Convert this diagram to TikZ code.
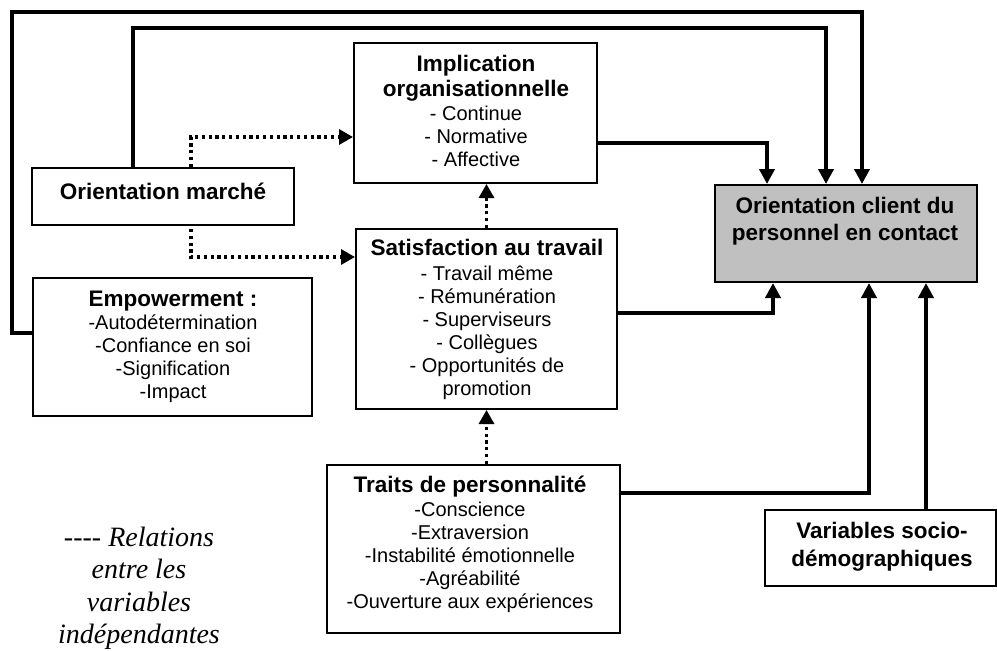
\documentclass[tikz,border=0pt]{standalone}
\usepackage{fontspec}
\setmainfont{Liberation Sans}
\newfontfamily\timesfont{Liberation Serif}
\usetikzlibrary{arrows.meta}
\definecolor{ocgray}{RGB}{192,192,192}
\begin{document}
\begin{tikzpicture}[x=1pt,y=-1pt,
  box/.style={draw, line width=2pt, inner sep=0pt},
  txt/.style={align=center, inner sep=0pt, anchor=base, font=\fontsize{20}{23}\selectfont},
  conn/.style={line width=4pt, -{Triangle[length=15pt,width=15pt]}},
  dotc/.style={line width=3.2pt, dash pattern=on 3.2pt off 3.6pt, -{Triangle[length=14pt,width=15pt]}}]
\useasboundingbox (0,0) rectangle (997,651);
% boxes
\node[box, minimum width=243pt, minimum height=140pt] (impl) at (475.5,113) {};
\node[box, minimum width=262pt, minimum height=57pt] (om) at (163,196.5) {};
\node[box, minimum width=261pt, minimum height=180pt] (sat) at (486.5,319) {};
\node[box, fill=ocgray, minimum width=262pt, minimum height=97pt] (oc) at (846,233.5) {};
\node[box, minimum width=293pt, minimum height=168pt] (traits) at (473.5,549) {};
\node[box, minimum width=231pt, minimum height=76pt] (var) at (880.5,548) {};
\node[box, minimum width=279pt, minimum height=138pt] (emp) at (172.5,347) {};
% texts (anchor base = baseline of last line)
\node[txt] (implT) at (476,166.7) {{\fontsize{22.5}{23}\selectfont\bfseries Implication}\\[2pt]{\fontsize{22.5}{23}\selectfont\bfseries organisationnelle}\\[1pt]- Continue\\- Normative\\- Affective};
\node[txt] (omT) at (163,199) {\fontsize{22.5}{23}\selectfont\bfseries Orientation marché};
\node[txt] (satT) at (487,395) {{\fontsize{22.5}{23}\selectfont\bfseries Satisfaction au travail}\\[1.5pt]- Travail même\\- Rémunération\\- Superviseurs\\- Collègues\\- Opportunités de\\promotion};
\node[txt] (ocT) at (845,240) {{\fontsize{22.5}{23}\selectfont\bfseries Orientation client du}\\[3.5pt]{\fontsize{22.5}{23}\selectfont\bfseries personnel en contact}};
\node[txt] (trT) at (470,608.3) {{\fontsize{22.5}{23}\selectfont\bfseries Traits de personnalité}\\[0.5pt]-Conscience\\-Extraversion\\-Instabilité émotionnelle\\-Agréabilité\\-Ouverture aux expériences};
\node[txt] (varT) at (882,566) {{\fontsize{22.5}{23}\selectfont\bfseries Variables socio-}\\[4.5pt]{\fontsize{22.5}{23}\selectfont\bfseries démographiques}};
\node[txt] (empT) at (173,398.3) {{\fontsize{22.5}{23}\selectfont\bfseries Empowerment :}\\-Autodétermination\\-Confiance en soi\\-Signification\\-Impact};
\node[align=center, inner sep=0pt, anchor=base, font=\timesfont\itshape\fontsize{28}{32.2}\selectfont] (legend) at (139,643.3) {---- Relations\\entre les\\variables\\indépendantes};
% corner coordinates
\coordinate (c1) at (12,12);
\coordinate (c2) at (500,28);
\coordinate (vx) at ([xshift=80pt]oc.south);
% solid connectors
\draw[conn] ([yshift=14pt]emp.west) -| (c1) -| ([xshift=16pt]oc.north);
\draw[conn] ([xshift=-30pt]om.north) |- (c2) -| ([xshift=-20pt]oc.north);
\draw[conn] ([yshift=-30pt]impl.east) -| ([xshift=-79pt]oc.north);
\draw[conn] ([yshift=6pt]sat.east) -| ([xshift=-73pt]oc.south);
\draw[conn] ([yshift=56pt]traits.east) -| ([xshift=23pt]oc.south);
\draw[conn] (var.north -| vx) -- (vx);
% dotted connectors
\draw[dotc] ([xshift=28pt]om.north) |- ([yshift=-24pt]impl.west);
\draw[dotc, shorten <=3pt] ([xshift=28pt]om.south) |- ([yshift=62pt]sat.west);
\draw[dotc] (sat.north) -- (sat.north |- impl.south);
\draw[dotc] (traits.north -| sat.south) -- (sat.south);
\end{tikzpicture}
\end{document}
